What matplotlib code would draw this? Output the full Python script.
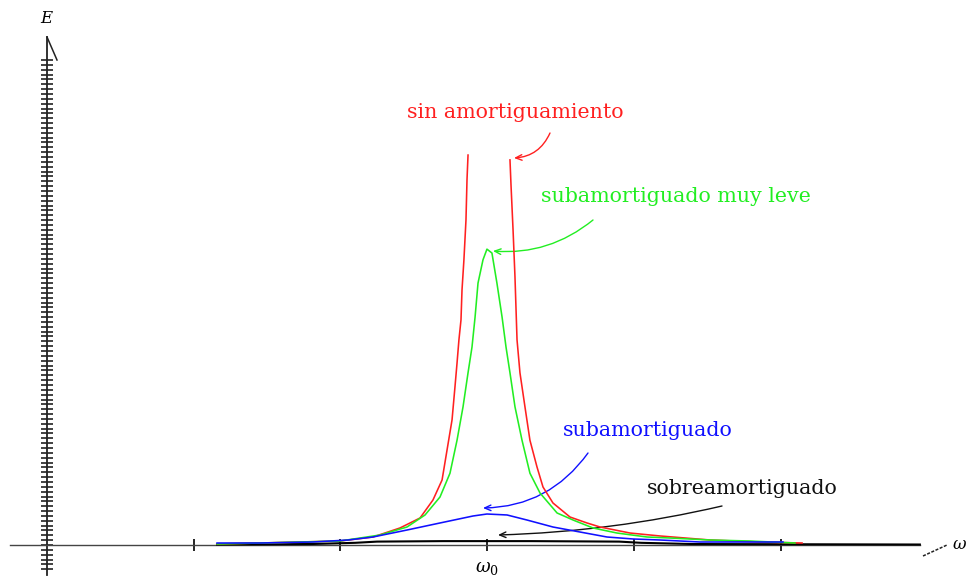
import numpy as np
import matplotlib
matplotlib.use("Agg")
import matplotlib.pyplot as plt

# frequency (omega0 = 3) and energy
w_sin_left = [1.159, 1.452, 1.725, 1.997, 2.222, 2.406, 2.543, 2.631, 2.693, 2.727,
              2.761, 2.781, 2.795, 2.808, 2.822, 2.829, 2.842, 2.856, 2.863, 2.870]
e_sin_left = [0.21, 0.41, 0.62, 0.82, 1.65, 3.51, 5.57, 9.28, 13.4, 19.6,
              25.8, 32.6, 37.5, 42.3, 46.4, 52.6, 58.8, 67.0, 75.3, 80.4]
w_sin_right = [3.156, 3.163, 3.177, 3.190, 3.204, 3.224, 3.258, 3.292, 3.340, 3.381,
               3.449, 3.565, 3.681, 3.770, 3.974, 4.179, 4.520, 4.860, 5.147]
e_sin_right = [79.4, 74.2, 64.9, 55.3, 42.3, 35.5, 28.5, 21.6, 16.1, 11.96,
               8.66, 5.77, 4.54, 3.71, 2.47, 1.86, 1.03, 0.62, 0.41]

w_leve = [1.159, 1.452, 1.725, 1.997, 2.270, 2.454, 2.577, 2.679, 2.747, 2.795, 2.836,
          2.870, 2.897, 2.918, 2.938, 2.972, 2.999, 3.033, 3.067, 3.102, 3.129, 3.156,
          3.190, 3.238, 3.292, 3.361, 3.477, 3.586, 3.722, 3.885, 4.090, 4.247, 4.520,
          4.792, 5.099]
e_leve = [0.21, 0.41, 0.62, 0.82, 2.06, 3.71, 6.19, 9.90, 14.8, 21.6, 28.5,
          35.5, 40.8, 47.0, 54.0, 58.8, 61.0, 60.2, 54.0, 47.0, 40.8, 35.5,
          28.5, 21.6, 14.8, 10.7, 6.60, 5.15, 3.51, 2.47, 1.65, 1.44, 1.03,
          0.82, 0.41]

w_sub = [1.159, 1.452, 1.813, 2.052, 2.222, 2.454, 2.679, 2.904, 2.999, 3.136,
         3.272, 3.449, 3.633, 3.817, 3.995, 4.179, 4.451, 5.017]
e_sub = [0.41, 0.41, 0.62, 1.03, 1.65, 3.09, 4.54, 5.98, 6.39, 6.19,
         5.15, 3.71, 2.68, 1.65, 1.24, 1.03, 0.62, 0.62]

w_sobre = [1.159, 1.80, 2.10, 2.25, 2.70, 3.30, 3.90, 4.05, 4.40, 5.95]
e_sobre = [0.1, 0.2, 0.45, 0.7, 0.8, 0.8, 0.7, 0.45, 0.2, 0.1]

x_ticks = [1, 2, 3, 4, 5]
y_ticks = np.arange(-5, 101)

# pixel -> data helper (1 x unit = 146.7 px, 1 y unit = 4.85 px)
def px(x, y):
    return ((x - 47) / 146.7, (545 - y) / 4.85)

fig = plt.figure(figsize=(9.72, 5.81), dpi=100)
ax = fig.add_axes([0, 0, 1, 1])
ax.set_xlim(-47 / 146.7, (972 - 47) / 146.7)
ax.set_ylim(-36 / 4.85, 545 / 4.85)

plt.rcParams['mathtext.fontset'] = 'dejavuserif'
font = 'DejaVu Serif'

for s in ['top', 'right']:
    ax.spines[s].set_visible(False)
ax.spines['left'].set_position(('data', 0))
ax.spines['bottom'].set_position(('data', 0))
ax.spines['left'].set_bounds(-6.2, 104.7)
ax.spines['bottom'].set_bounds(-0.25, 5.95)
ax.spines['left'].set_color('#222222')
ax.spines['bottom'].set_color('#444444')
ax.spines['left'].set_linewidth(1.3)
ax.spines['bottom'].set_linewidth(1.0)

ax.set_xticks(x_ticks)
ax.set_yticks(y_ticks)
ax.tick_params(axis='x', direction='inout', length=9, width=1.2, labelbottom=False)
ax.tick_params(axis='y', direction='inout', length=8, width=1.2, labelleft=False,
               color='#222222')

# half arrow heads at the axis ends
ax.plot(*zip(px(47, 37), px(57, 60)), color='#222222', lw=1.1)
ax.plot(*zip(px(923, 556), px(947, 545)), color='#222222', lw=1.1, ls=(0, (2, 1)))

lw = 1.15
ax.plot(w_sobre, e_sobre, color='black', lw=1.5, zorder=3)
ax.plot(w_sin_left, e_sin_left, color='#ff2020', lw=lw, zorder=4)
ax.plot(w_sin_right, e_sin_right, color='#ff2020', lw=lw, zorder=4)
ax.plot(w_leve, e_leve, color='#22ee22', lw=lw, zorder=5)
ax.plot(w_sub, e_sub, color='#1010ff', lw=lw, zorder=6)

ts = 14.8
labels = [
    ('sin amortiguamiento', '#ff2020', (515, 113), (550, 133), (514, 158), -0.3),
    ('subamortiguado muy leve', '#22ee22', (676, 196), (593, 220), (493, 251), -0.2),
    ('subamortiguado', '#1010ff', (648, 430), (588, 453), (483, 508), -0.25),
    ('sobreamortiguado', '#111111', (742, 488), (722, 506), (498, 535), -0.05),
]
for txt, c, pos, start, tip, rad in labels:
    ax.text(*px(*pos), txt, color=c, fontsize=ts, family=font,
            ha='center', va='center')
    ax.annotate('', xy=px(*tip), xytext=px(*start),
                arrowprops=dict(arrowstyle='->,head_length=0.45,head_width=0.2',
                                color=c, lw=1.0, shrinkA=0, shrinkB=0,
                                connectionstyle='arc3,rad=%s' % rad))

ax.text(*px(47, 18), '$E$', fontsize=12, ha='center', va='center')
ax.text(*px(487, 568), r'$\omega_0$', fontsize=13, ha='center', va='center')
ax.text(*px(952, 544), r'$\omega$', fontsize=12, ha='left', va='center')

fig.savefig('out.png', dpi=100)
